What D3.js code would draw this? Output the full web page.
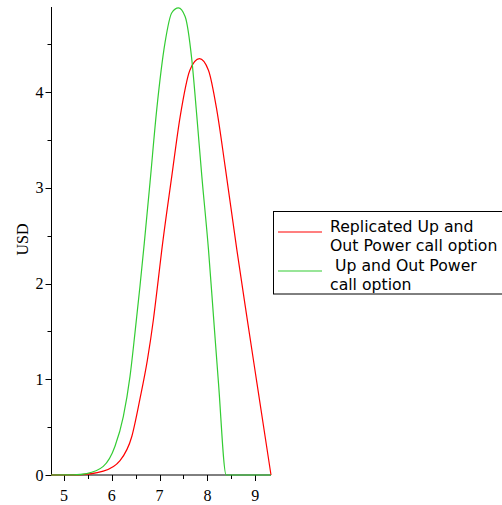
<!DOCTYPE html>
<html>
<head>
<meta charset="utf-8">
<script src="https://cdn.jsdelivr.net/npm/d3@7"></script>
<style>
  html, body { margin: 0; padding: 0; background: #fff; }
  svg { display: block; }
</style>
</head>
<body>
<svg id="chart" width="502" height="505"></svg>
<script>
'use strict';

// values
var arrayGreenX = [4.73, 5.2, 5.475, 5.823, 6.068, 6.242, 6.382, 6.487, 6.592, 6.68, 6.801, 6.941, 7.115, 7.256, 7.394, 7.534, 7.674, 7.779, 7.884, 8.022, 8.127, 8.232, 8.393, 9.33];
var arrayGreenY = [0, 0.002, 0.015, 0.09, 0.30, 0.61, 1.03, 1.49, 1.98, 2.42, 3.06, 3.82, 4.52, 4.83, 4.88, 4.79, 4.34, 3.75, 3.12, 2.36, 1.66, 0.96, 0, 0];

var arrayRedX = [4.73, 5.3, 5.823, 6.173, 6.418, 6.592, 6.745, 6.87, 6.975, 7.046, 7.255, 7.429, 7.634, 7.834, 8.022, 8.198, 8.372, 8.617, 8.826, 9.036, 9.33];
var arrayRedY = [0, 0.002, 0.04, 0.15, 0.40, 0.80, 1.20, 1.62, 2.05, 2.35, 3.12, 3.74, 4.23, 4.35, 4.23, 3.81, 3.22, 2.35, 1.65, 0.96, 0];

var arrayXTicks = [5, 6, 7, 8, 9];
var arrayXMinor = [5.5, 6.5, 7.5, 8.5];
var arrayYTicks = [0, 1, 2, 3, 4];
var arrayYMinor = [0.5, 1.5, 2.5, 3.5, 4.5];

var arrayLegend = [
	{ color: '#ff0000', lines: ['Replicated Up and', 'Out Power call option'] },
	{ color: '#33cc33', lines: ['\u00a0Up and Out Power', 'call option'] }
];

var svg = d3.select('#chart');

var x = d3.scaleLinear().domain([4.73, 9.33]).range([51, 271]);
var y = d3.scaleLinear().domain([0, 4.89]).range([475, 7]);

var strSerif = '"Liberation Serif", "Times New Roman", serif';

// y axis
var gY = svg.append('g').attr('transform', 'translate(51.5,0)');
gY.append('line').attr('y1', y(4.89)).attr('y2', y(0)).attr('stroke', '#000');
gY.selectAll('line.major').data(arrayYTicks).enter().append('line')
	.attr('class', 'major')
	.attr('x1', -6).attr('x2', 0)
	.attr('y1', function(d) { return Math.round(y(d)) + 0.5; })
	.attr('y2', function(d) { return Math.round(y(d)) + 0.5; })
	.attr('stroke', '#000');
gY.selectAll('line.minor').data(arrayYMinor).enter().append('line')
	.attr('class', 'minor')
	.attr('x1', -4).attr('x2', 0)
	.attr('y1', function(d) { return Math.round(y(d)) + 0.5; })
	.attr('y2', function(d) { return Math.round(y(d)) + 0.5; })
	.attr('stroke', '#000');
gY.selectAll('text').data(arrayYTicks).enter().append('text')
	.attr('x', -8)
	.attr('y', function(d) { return y(d) + 5.5; })
	.attr('text-anchor', 'end')
	.attr('font-family', strSerif)
	.attr('font-size', 16)
	.text(function(d) { return d; });

// x axis
var gX = svg.append('g').attr('transform', 'translate(0,' + y(0) + ')');
gX.append('line').attr('x1', x(4.73)).attr('x2', x(9.33)).attr('stroke', '#000');
gX.selectAll('line.major').data(arrayXTicks).enter().append('line')
	.attr('class', 'major')
	.attr('x1', function(d) { return Math.round(x(d)) + 0.5; })
	.attr('x2', function(d) { return Math.round(x(d)) + 0.5; })
	.attr('y1', 0).attr('y2', 6)
	.attr('stroke', '#000');
gX.selectAll('line.minor').data(arrayXMinor).enter().append('line')
	.attr('class', 'minor')
	.attr('x1', function(d) { return Math.round(x(d)) + 0.5; })
	.attr('x2', function(d) { return Math.round(x(d)) + 0.5; })
	.attr('y1', 0).attr('y2', 4)
	.attr('stroke', '#000');
gX.selectAll('text').data(arrayXTicks).enter().append('text')
	.attr('x', function(d) { return x(d); })
	.attr('y', 26)
	.attr('text-anchor', 'middle')
	.attr('font-family', strSerif)
	.attr('font-size', 16)
	.text(function(d) { return d; });

svg.append('text')
	.attr('transform', 'translate(28,239.5) rotate(-90)')
	.attr('text-anchor', 'middle')
	.attr('font-family', strSerif)
	.attr('font-size', 16)
	.text('USD');

// curves
var line = d3.line()
	.x(function(d) { return x(d[0]); })
	.y(function(d) { return y(d[1]); })
	.curve(d3.curveMonotoneX);

var arrayRed = d3.zip(arrayRedX, arrayRedY);
var arrayGreen = d3.zip(arrayGreenX, arrayGreenY);

svg.append('path').datum(arrayRed)
	.attr('d', line).attr('fill', 'none')
	.attr('stroke', '#ff0000').attr('stroke-width', 1.2);
svg.append('path').datum(arrayGreen)
	.attr('d', line).attr('fill', 'none')
	.attr('stroke', '#33cc33').attr('stroke-width', 1.2);

// legend
var gLegend = svg.append('g');
gLegend.append('rect')
	.attr('x', 273.5).attr('y', 211.5)
	.attr('width', 260).attr('height', 82.5)
	.attr('fill', '#fff').attr('stroke', '#000');

arrayLegend.forEach(function(arrayItem, i)
{
	var fBase = 231.5 + i * 39;
	gLegend.append('line')
		.attr('x1', 278).attr('x2', 322)
		.attr('y1', fBase + 0.5).attr('y2', fBase + 0.5)
		.attr('stroke', arrayItem.color).attr('stroke-width', 1.2);
	arrayItem.lines.forEach(function(strLine, j)
	{
		gLegend.append('text')
			.attr('x', 330)
			.attr('y', fBase + j * 19.5)
			.attr('font-family', '"DejaVu Sans", sans-serif')
			.attr('font-size', 15.7)
			.text(strLine);
	});
});
</script>
</body>
</html>
